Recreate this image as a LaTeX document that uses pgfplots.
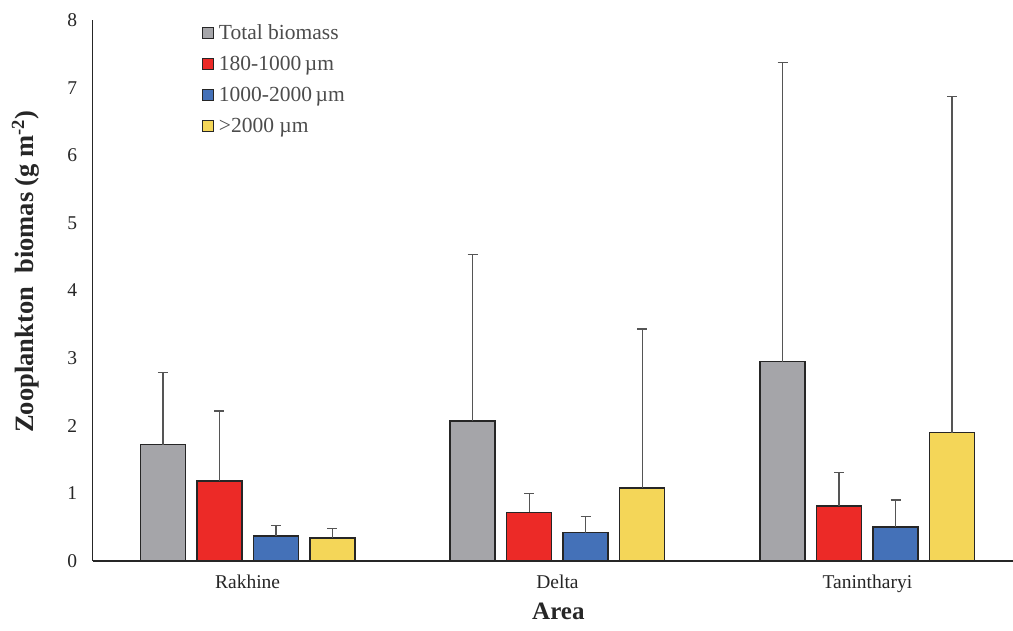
\documentclass[border=0pt]{standalone}
\usepackage{pgfplots}
\pgfplotsset{compat=1.18}
\usepackage{fontspec}
\setmainfont{Liberation Serif}
\definecolor{cgray}{HTML}{A5A5A9}
\definecolor{cred}{HTML}{EC2A27}
\definecolor{cblue}{HTML}{4471B8}
\definecolor{cyellow}{HTML}{F4D658}
\definecolor{cedge}{HTML}{262626}
\definecolor{cerr}{HTML}{555555}
\begin{document}
\begin{tikzpicture}
\begin{axis}[name=ax,
  scale only axis, width=920.3pt, height=541pt,
  ybar=11.5pt, bar width=45pt,
  xmin=-0.5, xmax=2.47, ymin=0, ymax=8,
  axis x line=bottom, axis y line=left,
  axis line style={-, cedge, line width=1.2pt},
  xtick={0,1,2}, xticklabels={Rakhine,Delta,Tanintharyi},
  ytick={0,1,...,8},
  major tick length=0pt,
  /pgf/number format/assume math mode=true,
  tick label style={font=\fontsize{19.5}{22}\selectfont, text=black!85},
  yticklabel style={xshift=-12pt},
  xticklabel style={yshift=-10pt},
  ylabel={\textbf{Zooplankton\ \ biomas (g m\textsuperscript{-2})}},
  ylabel style={font=\fontsize{26.5}{30}\selectfont, text=black!85, at={(axis description cs:-0.073,0.535)}, anchor=center},
  xlabel={\textbf{Area}},
  xlabel style={font=\fontsize{25}{28}\selectfont, text=black!85, at={(axis description cs:0.506,-0.094)}, anchor=center},
  legend cell align=left,
  legend style={at={(0.115,0.999)}, anchor=north west, draw=none, fill=none,
    font=\fontsize{21.5}{24}\selectfont, text=black!70, row sep=11pt,
    /tikz/every odd column/.append style={column sep=3pt}},
  legend image code/.code={\draw[#1, line width=1.2pt, draw=cedge] (0pt,-5.5pt) rectangle (11pt,5.5pt);},
  error bars/y dir=plus, error bars/y explicit,
  error bars/error bar style={cerr, line width=1.3pt},
  error bars/error mark options={rotate=90, cerr, mark size=5pt, line width=1.3pt},
  every axis plot/.append style={draw=cedge, line width=1.5pt},
]
\addplot[fill=cgray] coordinates {(0,1.72) +- (0,1.07) (1,2.07) +- (0,2.46) (2,2.95) +- (0,4.42)};
\addplot[fill=cred] coordinates {(0,1.18) +- (0,1.04) (1,0.72) +- (0,0.28) (2,0.81) +- (0,0.50)};
\addplot[fill=cblue] coordinates {(0,0.37) +- (0,0.15) (1,0.42) +- (0,0.24) (2,0.50) +- (0,0.40)};
\addplot[fill=cyellow] coordinates {(0,0.34) +- (0,0.14) (1,1.08) +- (0,2.35) (2,1.90) +- (0,4.97)};
\legend{Total biomass, 180-1000\,µm, 1000-2000\,µm, >2000 µm}
\end{axis}
\pgfresetboundingbox
\path (ax.south west) ++(-92.7pt,-69pt) rectangle ++(1013pt,630pt);
\end{tikzpicture}
\end{document}
